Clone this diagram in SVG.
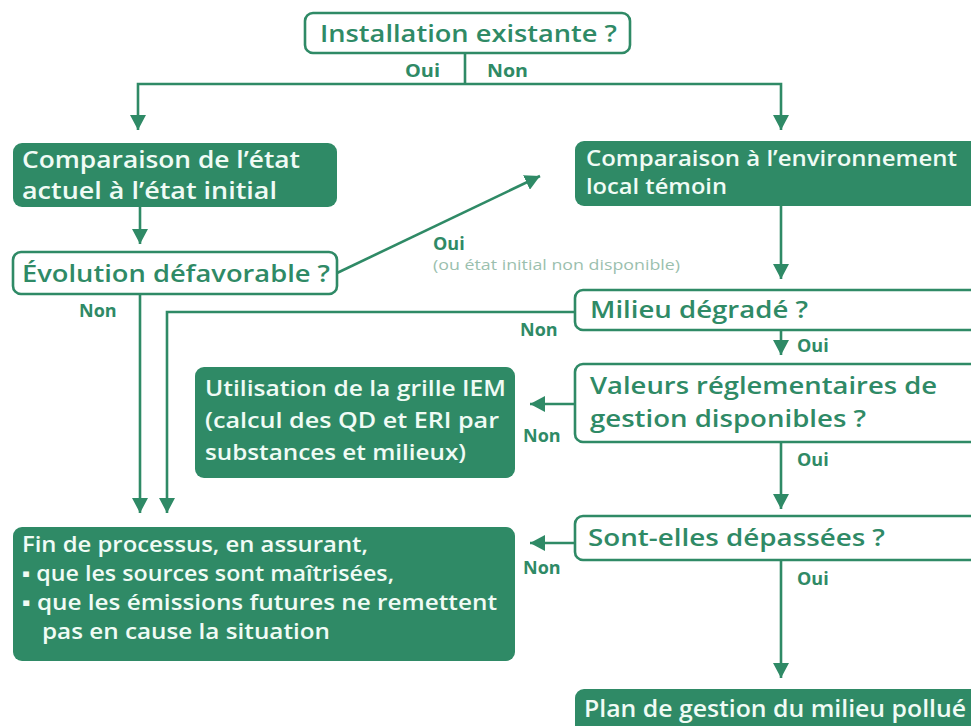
<svg xmlns="http://www.w3.org/2000/svg" width="971" height="726" viewBox="0 0 971 726">
<defs>
<marker id="ah" markerUnits="userSpaceOnUse" markerWidth="16" markerHeight="16" refX="15" refY="8" orient="auto">
<path d="M0,0 L15,8 L0,16 z" fill="#2f8a66"/>
</marker>
<style>
.out{fill:#ffffff;stroke:#2f8a66;stroke-width:2.6}
.fill{fill:#2f8a66}
.tg{font-family:"Open Sans","Liberation Sans",sans-serif;font-weight:600;fill:#2f8a66}
.tw{font-family:"Open Sans","Liberation Sans",sans-serif;font-weight:600;fill:#f0fbf5}
.lb{font-family:"Open Sans","Liberation Sans",sans-serif;font-weight:700;fill:#2f8a66;font-size:18px}
.note{font-family:"Open Sans","Liberation Sans",sans-serif;fill:#9bbfae;font-size:14px}
.ln{fill:none;stroke:#2f8a66;stroke-width:2.6}
</style>
</defs>
<rect width="971" height="726" fill="#ffffff"/>
<g id="connectors">
<path class="ln" d="M465,53 V84"/>
<path class="ln" d="M465,84 H138 V130" marker-end="url(#ah)"/>
<path class="ln" d="M465,84 H781 V130" marker-end="url(#ah)"/>
<path class="ln" d="M140,207 V244" marker-end="url(#ah)"/>
<path class="ln" d="M337,273 L540,176" marker-end="url(#ah)"/>
<path class="ln" d="M781,206 V279" marker-end="url(#ah)"/>
<path class="ln" d="M140,294 V513" marker-end="url(#ah)"/>
<path class="ln" d="M575,312 H167 V513" marker-end="url(#ah)"/>
<path class="ln" d="M781,330 V355" marker-end="url(#ah)"/>
<path class="ln" d="M575,404 H530" marker-end="url(#ah)"/>
<path class="ln" d="M781,442 V509" marker-end="url(#ah)"/>
<path class="ln" d="M575,543 H530" marker-end="url(#ah)"/>
<path class="ln" d="M781,560 V678" marker-end="url(#ah)"/>
<text class="lb" x="405" y="77" textLength="35" lengthAdjust="spacingAndGlyphs">Oui</text>
<text class="lb" x="487" y="77" textLength="41" lengthAdjust="spacingAndGlyphs">Non</text>
<text class="lb" x="433" y="250">Oui</text>
<text class="note" x="433" y="270" textLength="247" lengthAdjust="spacingAndGlyphs">(ou état initial non disponible)</text>
<text class="lb" x="79" y="317">Non</text>
<text class="lb" x="520" y="336">Non</text>
<text class="lb" x="797" y="352">Oui</text>
<text class="lb" x="523" y="442">Non</text>
<text class="lb" x="797" y="466">Oui</text>
<text class="lb" x="523" y="574">Non</text>
<text class="lb" x="797" y="585">Oui</text>
</g>
<g id="n1">
<rect class="out" x="305" y="13" width="325" height="40" rx="8"/>
<text class="tg" x="320" y="42" font-size="24" textLength="297" lengthAdjust="spacingAndGlyphs">Installation existante ?</text>
</g>
<g id="n2">
<rect class="fill" x="13" y="143" width="324" height="64" rx="9"/>
<text class="tw" x="22" y="168" font-size="24" textLength="278" lengthAdjust="spacingAndGlyphs">Comparaison de l’état</text>
<text class="tw" x="22" y="199" font-size="24" textLength="255" lengthAdjust="spacingAndGlyphs">actuel à l’état initial</text>
</g>
<g id="n3">
<rect class="fill" x="575" y="141" width="405" height="65" rx="9"/>
<text class="tw" x="586" y="166" font-size="22" textLength="371" lengthAdjust="spacingAndGlyphs">Comparaison à l’environnement</text>
<text class="tw" x="586" y="194" font-size="22" textLength="141" lengthAdjust="spacingAndGlyphs">local témoin</text>
</g>
<g id="n4">
<rect class="out" x="13" y="252" width="324" height="42" rx="8"/>
<text class="tg" x="22" y="282" font-size="24" textLength="308" lengthAdjust="spacingAndGlyphs">Évolution défavorable ?</text>
</g>
<g id="n5">
<rect class="out" x="575" y="290" width="405" height="40" rx="8"/>
<text class="tg" x="590" y="318" font-size="24" textLength="218" lengthAdjust="spacingAndGlyphs">Milieu dégradé ?</text>
</g>
<g id="n6">
<rect class="out" x="575" y="364" width="405" height="78" rx="8"/>
<text class="tg" x="590" y="394" font-size="24" textLength="347" lengthAdjust="spacingAndGlyphs">Valeurs réglementaires de</text>
<text class="tg" x="590" y="427" font-size="24" textLength="276" lengthAdjust="spacingAndGlyphs">gestion disponibles ?</text>
</g>
<g id="n7">
<rect class="fill" x="195" y="367" width="320" height="111" rx="9"/>
<text class="tw" x="205" y="396" font-size="22" textLength="301" lengthAdjust="spacingAndGlyphs">Utilisation de la grille IEM</text>
<text class="tw" x="205" y="428" font-size="22" textLength="294" lengthAdjust="spacingAndGlyphs">(calcul des QD et ERI par</text>
<text class="tw" x="205" y="460" font-size="22" textLength="261" lengthAdjust="spacingAndGlyphs">substances et milieux)</text>
</g>
<g id="n8">
<rect class="out" x="575" y="516" width="405" height="44" rx="8"/>
<text class="tg" x="588" y="546" font-size="24" textLength="297" lengthAdjust="spacingAndGlyphs">Sont-elles dépassées ?</text>
</g>
<g id="n9">
<rect class="fill" x="13" y="527" width="502" height="134" rx="9"/>
<text class="tw" x="22" y="552" font-size="22" textLength="346" lengthAdjust="spacingAndGlyphs">Fin de processus, en assurant,</text>
<text class="tw" x="22" y="581" font-size="22" textLength="372" lengthAdjust="spacingAndGlyphs">▪ que les sources sont maîtrisées,</text>
<text class="tw" x="22" y="610" font-size="22" textLength="475" lengthAdjust="spacingAndGlyphs">▪ que les émissions futures ne remettent</text>
<text class="tw" x="42" y="639" font-size="22" textLength="288" lengthAdjust="spacingAndGlyphs">pas en cause la situation</text>
</g>
<g id="n10">
<rect class="fill" x="575" y="689" width="405" height="50" rx="9"/>
<text class="tw" x="584" y="717" font-size="24" textLength="382" lengthAdjust="spacingAndGlyphs">Plan de gestion du milieu pollué</text>
</g>
</svg>
